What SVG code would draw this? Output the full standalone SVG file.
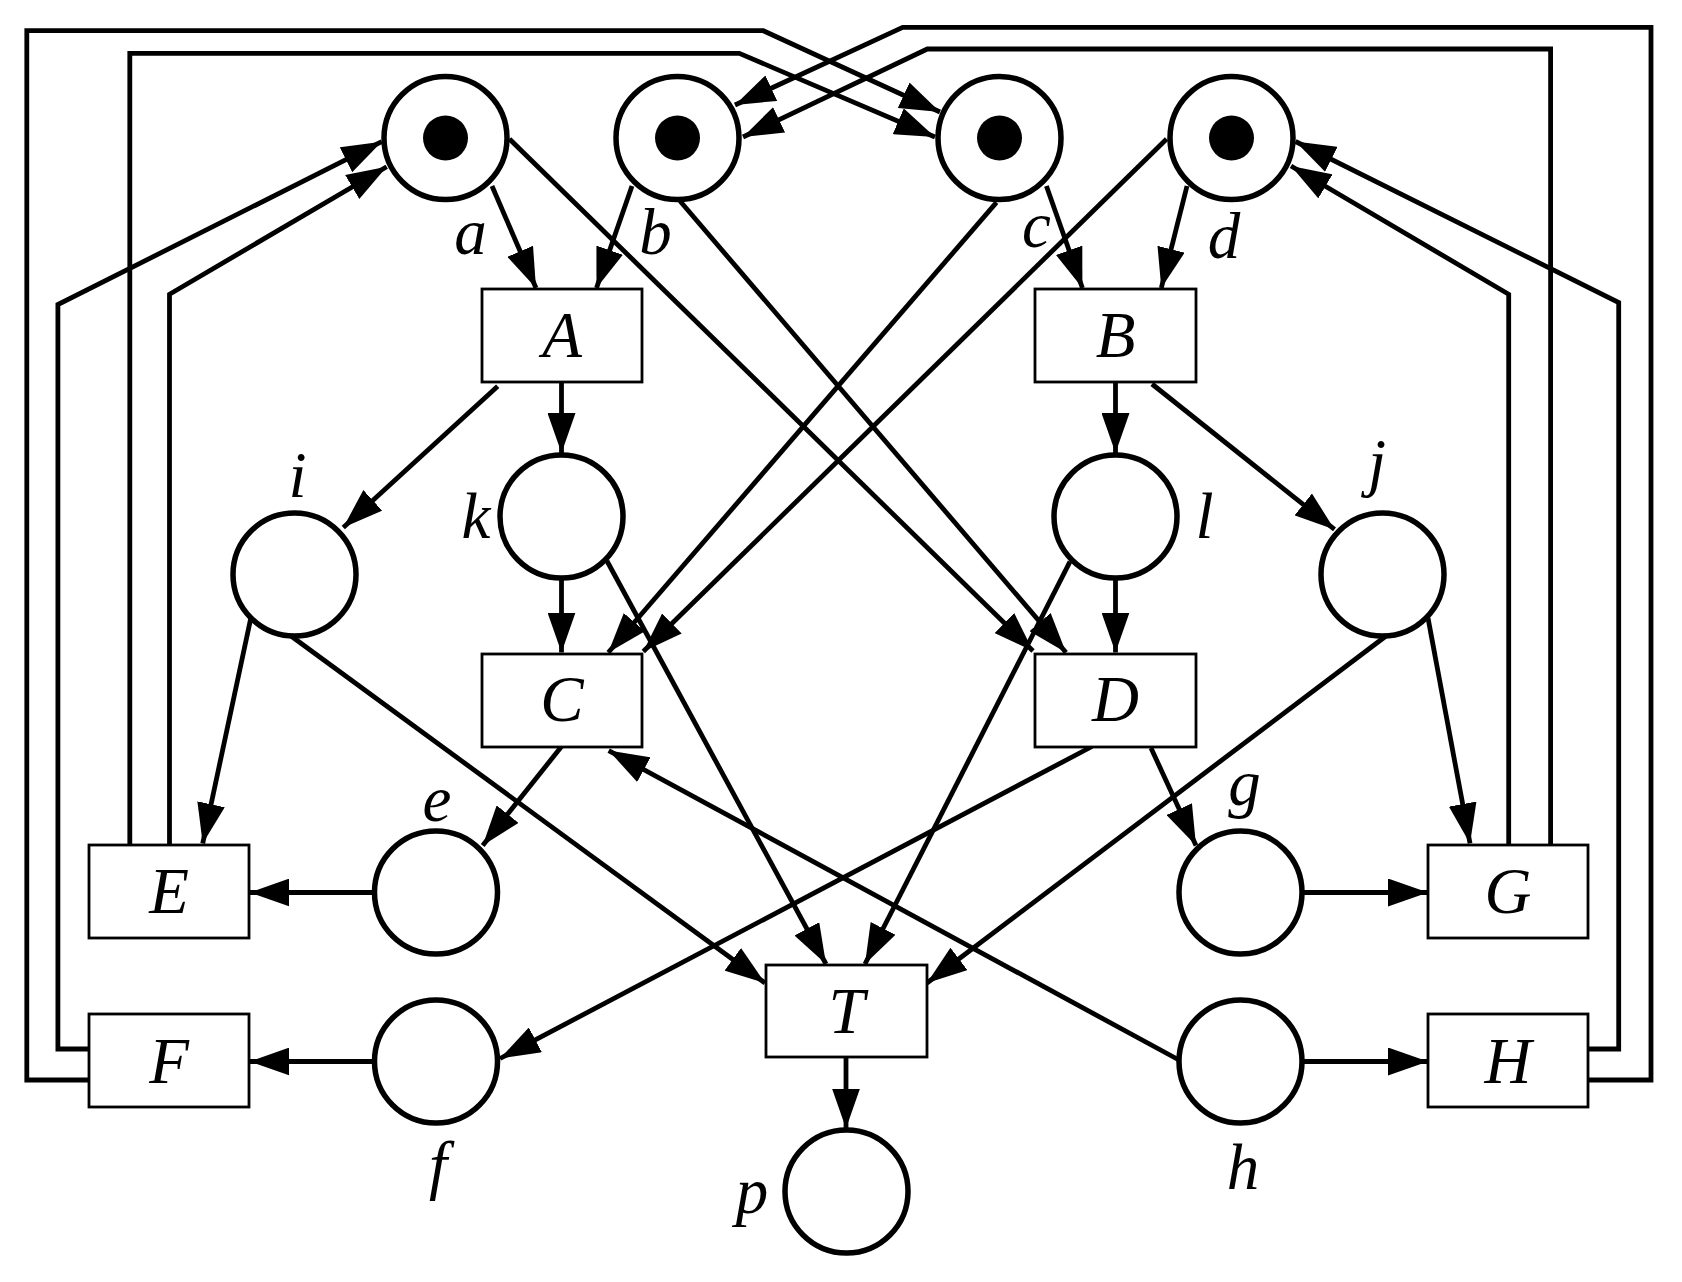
<svg xmlns="http://www.w3.org/2000/svg" width="1682" height="1282" viewBox="0 0 1682 1282">
<defs>
<marker id="ah" markerUnits="userSpaceOnUse" markerWidth="40" markerHeight="28" refX="40" refY="14" orient="auto" viewBox="0 0 40 28"><path d="M0,0 L40,14 L0,28 Z" fill="#000"/></marker>
</defs>
<style>
.c line, .c polyline {stroke:#000; stroke-width:4.8; fill:none; stroke-linejoin:miter; marker-end:url(#ah);}
.pl {fill:#fff; stroke:#000; stroke-width:5.5;}
.tk {fill:#000;}
.tr {fill:#fff; stroke:#000; stroke-width:2.8;}
.lb {font-family:"Liberation Serif","Times New Roman",serif; font-style:italic; font-size:65px; fill:#000; text-anchor:middle;}
</style>
<rect width="1682" height="1282" fill="#fff"/>
<g id="connectors" class="c">
<polyline points="89,1080 26.8,1080 26.8,30.7 763.3,30.7 940,112"/>
<polyline points="89,1049 57.9,1049 57.9,304.6 381.7,141.7"/>
<polyline points="129.8,845 129.8,53.3 739.3,53.3 935,137"/>
<polyline points="169.5,845 169.5,294.3 386.7,166.7"/>
<polyline points="1588,1080 1651,1080 1651,27.3 902.7,27.3 735,105"/>
<polyline points="1588,1049 1618.7,1049 1618.7,302.5 1295.5,141.5"/>
<polyline points="1550.6,845 1550.6,49 927.3,49 743,137"/>
<polyline points="1508.7,845 1508.7,294.3 1291,166"/>
<line x1="492" y1="186" x2="536" y2="288"/>
<line x1="632" y1="186" x2="596.5" y2="288"/>
<line x1="1046.4" y1="186" x2="1082.4" y2="288"/>
<line x1="1187" y1="186" x2="1161.3" y2="288"/>
<line x1="509.5" y1="139" x2="1033" y2="651"/>
<line x1="680" y1="201" x2="1066" y2="652.5"/>
<line x1="996.5" y1="202.4" x2="608.3" y2="652.5"/>
<line x1="1166.6" y1="139" x2="643.3" y2="651.5"/>
<line x1="497.7" y1="386.3" x2="343.3" y2="527.4"/>
<line x1="561.5" y1="382" x2="561.5" y2="453"/>
<line x1="1115.5" y1="382" x2="1115.5" y2="453"/>
<line x1="1152" y1="384" x2="1334.5" y2="529.4"/>
<line x1="561.5" y1="579" x2="561.5" y2="652.5"/>
<line x1="1115.5" y1="579" x2="1115.5" y2="652.5"/>
<line x1="607" y1="561" x2="826" y2="964"/>
<line x1="1070" y1="561.7" x2="865" y2="964"/>
<line x1="251" y1="617.3" x2="202.7" y2="843.4"/>
<line x1="291" y1="636" x2="765" y2="983"/>
<line x1="1386" y1="636" x2="927" y2="983"/>
<line x1="1428" y1="618" x2="1470" y2="843.4"/>
<line x1="561.5" y1="746.5" x2="482.7" y2="845.4"/>
<line x1="374.5" y1="892.5" x2="249.4" y2="892.5"/>
<line x1="374.5" y1="1061.5" x2="249.4" y2="1061.5"/>
<line x1="1151" y1="748" x2="1196" y2="845.4"/>
<line x1="1302" y1="892.5" x2="1428" y2="892.5"/>
<line x1="1302" y1="1061.5" x2="1428" y2="1061.5"/>
<line x1="1092" y1="746.5" x2="500" y2="1058.5"/>
<line x1="1179" y1="1060" x2="608.7" y2="750.6"/>
<line x1="846" y1="1057" x2="846" y2="1128.5"/>
</g>
<g id="place-a"><circle class="pl" cx="445.5" cy="138" r="61.5"/><circle class="tk" cx="445.5" cy="138" r="22.5"/><text class="lb" x="470.5" y="254">a</text></g>
<g id="place-b"><circle class="pl" cx="677.5" cy="138" r="61.5"/><circle class="tk" cx="677.5" cy="138" r="22.5"/><text class="lb" x="655.5" y="254">b</text></g>
<g id="place-c"><circle class="pl" cx="999.5" cy="138" r="61.5"/><circle class="tk" cx="999.5" cy="138" r="22.5"/><text class="lb" x="1036.5" y="247">c</text></g>
<g id="place-d"><circle class="pl" cx="1231.5" cy="138" r="61.5"/><circle class="tk" cx="1231.5" cy="138" r="22.5"/><text class="lb" x="1224" y="258">d</text></g>
<g id="place-i"><circle class="pl" cx="294.5" cy="574.5" r="61.5"/><text class="lb" x="297.6" y="496.7">i</text></g>
<g id="place-k"><circle class="pl" cx="561.5" cy="516.5" r="61.5"/><text class="lb" x="476" y="537.6">k</text></g>
<g id="place-l"><circle class="pl" cx="1115.5" cy="516.5" r="61.5"/><text class="lb" x="1204.5" y="537.6">l</text></g>
<g id="place-j"><circle class="pl" cx="1382.5" cy="574.5" r="61.5"/><text class="lb" x="1377" y="484">j</text></g>
<g id="place-e"><circle class="pl" cx="436" cy="892.5" r="61.5"/><text class="lb" x="437" y="821">e</text></g>
<g id="place-f"><circle class="pl" cx="436" cy="1061.5" r="61.5"/><text class="lb" x="438" y="1187">f</text></g>
<g id="place-g"><circle class="pl" cx="1240.5" cy="892.5" r="61.5"/><text class="lb" x="1244.5" y="805">g</text></g>
<g id="place-h"><circle class="pl" cx="1240.5" cy="1061.5" r="61.5"/><text class="lb" x="1243" y="1188.8">h</text></g>
<g id="place-p"><circle class="pl" cx="846.5" cy="1191.5" r="61.5"/><text class="lb" x="752" y="1213">p</text></g>
<g id="trans-A"><rect class="tr" x="482" y="289" width="160" height="93"/><text class="lb" x="562" y="357">A</text></g>
<g id="trans-B"><rect class="tr" x="1035" y="289" width="161" height="93"/><text class="lb" x="1115.5" y="357">B</text></g>
<g id="trans-C"><rect class="tr" x="482" y="654" width="160" height="93"/><text class="lb" x="562" y="721">C</text></g>
<g id="trans-D"><rect class="tr" x="1035" y="654" width="161" height="93"/><text class="lb" x="1115.5" y="721">D</text></g>
<g id="trans-E"><rect class="tr" x="89" y="845" width="160" height="93"/><text class="lb" x="169" y="913">E</text></g>
<g id="trans-F"><rect class="tr" x="89" y="1014" width="160" height="93"/><text class="lb" x="169" y="1082.5">F</text></g>
<g id="trans-G"><rect class="tr" x="1428" y="845" width="160" height="93"/><text class="lb" x="1508" y="913">G</text></g>
<g id="trans-H"><rect class="tr" x="1428" y="1014" width="160" height="93"/><text class="lb" x="1508" y="1082.5">H</text></g>
<g id="trans-T"><rect class="tr" x="766" y="965" width="161" height="92"/><text class="lb" x="846.5" y="1033">T</text></g>
</svg>
